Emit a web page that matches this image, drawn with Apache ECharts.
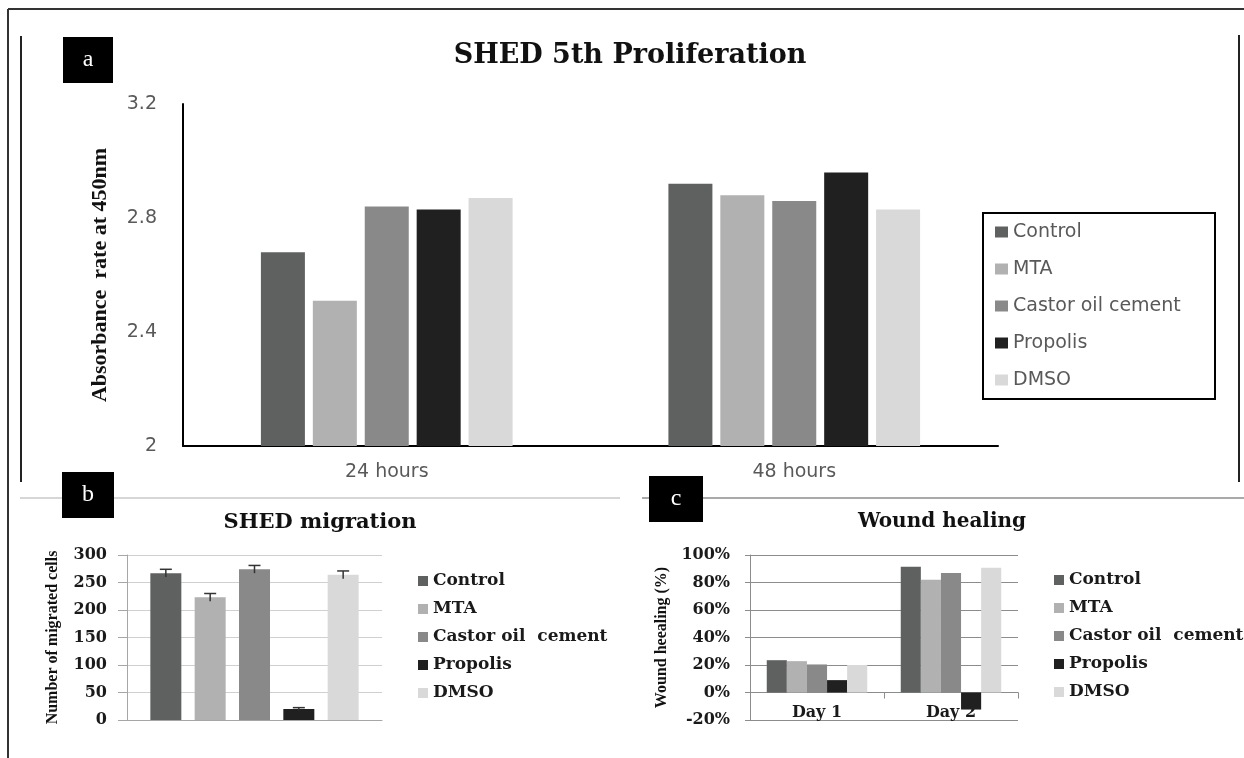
<!DOCTYPE html>
<html>
<head>
<meta charset="utf-8">
<title>SHED proliferation, migration and wound healing</title>
<script src="https://cdn.jsdelivr.net/npm/echarts@6/dist/echarts.min.js"></script>
<style>
    html, body { margin: 0; padding: 0; background: #fff; }
    #chart { width: 1244px; height: 758px; }
</style>
</head>
<body>
<div id="chart"></div>
<script>
// groups (legend names) - panels b and c use the double space as printed
const groups = ['Control', 'MTA', 'Castor oil cement', 'Propolis', 'DMSO'];
const groupsSmall = ['Control', 'MTA', 'Castor oil  cement', 'Propolis', 'DMSO'];
const greys = ['#5f6060', '#b1b1b1', '#898989', '#202020', '#d9d9d9'];

// a: proliferation, one row per group -> [24 hours, 48 hours]
const timePoints = ['24 hours', '48 hours'];
const absorbance = [
    [2.68, 2.92],
    [2.51, 2.88],
    [2.84, 2.86],
    [2.83, 2.96],
    [2.87, 2.83]
];

// b: migration (single measurement per group + error)
const migrated = [267, 223, 274, 20, 264];
const migratedErr = [7, 7, 7, 2.5, 7];

// c: wound healing, one row per group -> [Day 1, Day 2] in %
const days = ['Day 1', 'Day 2'];
const healing = [
    [23.5, 91.4],
    [22.8, 82],
    [20.4, 87],
    [9, -12.4],
    [20, 90.7]
];

const SERIF_B = { fontFamily: 'DejaVu Serif', fontWeight: 'bold' };
const migBarWidth = 31;
const migBarGap = 0.43;

const chart = echarts.init(document.getElementById('chart'));

const seriesA = groups.map((name, i) => ({
    type: 'bar', name, xAxisIndex: 0, yAxisIndex: 0,
    data: absorbance[i],
    barWidth: 44, barGap: '18%',
    itemStyle: { color: greys[i] }
}));

const seriesB = groupsSmall.map((name, i) => ({
    type: 'bar', name, xAxisIndex: 1, yAxisIndex: 1,
    data: [migrated[i]],
    barWidth: migBarWidth, barGap: (migBarGap * 100) + '%',
    itemStyle: { color: greys[i] }
}));

// error bars for panel b, placed at the bar offsets inside the single category
const errorBars = {
    type: 'custom', xAxisIndex: 1, yAxisIndex: 1, silent: true, z: 5,
    data: migrated.map((v, i) => [0, v, migratedErr[i], i]),
    renderItem: (params, api) => {
        const i = api.value(3);
        const step = migBarWidth * (1 + migBarGap);
        const dx = (i - (groups.length - 1) / 2) * step;
        const hi = api.coord([api.value(0), api.value(1) + api.value(2)]);
        const lo = api.coord([api.value(0), api.value(1) - api.value(2)]);
        const x = hi[0] + dx;
        const st = { stroke: '#333', lineWidth: 1.5 };
        return {
            type: 'group',
            children: [
                { type: 'line', shape: { x1: x, y1: hi[1], x2: x, y2: lo[1] }, style: st },
                { type: 'line', shape: { x1: x - 6, y1: hi[1], x2: x + 6, y2: hi[1] }, style: st }
            ]
        };
    }
};

const seriesC = groupsSmall.map((name, i) => ({
    type: 'bar', name, xAxisIndex: 2, yAxisIndex: 2,
    data: healing[i],
    barGap: '0%', barCategoryGap: '25%',
    itemStyle: { color: greys[i] }
}));

const option = {
    animation: false,
    backgroundColor: '#fff',
    title: [
        { text: 'SHED 5th Proliferation', left: 630, top: 42, textAlign: 'center', padding: 0,
          textStyle: Object.assign({ fontSize: 27, color: '#111' }, SERIF_B) },
        { text: 'SHED migration', left: 320, top: 512, textAlign: 'center', padding: 0,
          textStyle: Object.assign({ fontSize: 21, color: '#111' }, SERIF_B) },
        { text: 'Wound healing', left: 942, top: 512, textAlign: 'center', padding: 0,
          textStyle: Object.assign({ fontSize: 20, color: '#111' }, SERIF_B) }
    ],
    legend: [
        { data: groups, orient: 'vertical', left: 995, top: 221, padding: 0,
          icon: 'rect', itemWidth: 13, itemHeight: 11, itemGap: 15,
          textStyle: { fontFamily: 'DejaVu Sans', fontSize: 19, color: '#595959', lineHeight: 22 } },
        { data: groupsSmall, orient: 'vertical', left: 418, top: 572, padding: 0,
          icon: 'rect', itemWidth: 10, itemHeight: 10, itemGap: 10,
          textStyle: Object.assign({ fontSize: 17, color: '#1a1a1a', lineHeight: 18 }, SERIF_B) },
        { data: groupsSmall, orient: 'vertical', left: 1054, top: 571, padding: 0,
          icon: 'rect', itemWidth: 10, itemHeight: 10, itemGap: 10,
          textStyle: Object.assign({ fontSize: 17, color: '#1a1a1a', lineHeight: 18 }, SERIF_B) }
    ],
    grid: [
        { left: 183, top: 104, width: 815, height: 342 },
        { left: 127, top: 555, width: 255, height: 165 },
        { left: 750, top: 555, width: 268, height: 165 }
    ],
    xAxis: [
        { type: 'category', gridIndex: 0, data: timePoints,
          axisLine: { lineStyle: { color: '#000', width: 2 } },
          axisTick: { show: false },
          axisLabel: { fontFamily: 'DejaVu Sans', fontSize: 19, color: '#595959', margin: 17 } },
        { type: 'category', gridIndex: 1, data: ['SHED'],
          axisLine: { lineStyle: { color: '#a6a6a6' } },
          axisTick: { show: false }, axisLabel: { show: false } },
        // labels sit just under the zero line, overlapping the negative band as printed
        { type: 'category', gridIndex: 2, data: days,
          axisLine: { lineStyle: { color: '#8c8c8c' } },
          axisTick: { show: true, length: 6, lineStyle: { color: '#8c8c8c' } },
          axisLabel: Object.assign({ fontSize: 16, color: '#1a1a1a', margin: -15 }, SERIF_B) }
    ],
    yAxis: [
        { type: 'value', gridIndex: 0, min: 2, max: 3.2, interval: 0.4,
          axisLine: { show: true, lineStyle: { color: '#000', width: 2 } },
          axisTick: { show: false }, splitLine: { show: false },
          axisLabel: { fontFamily: 'DejaVu Sans', fontSize: 19, color: '#595959', margin: 26 },
          name: 'Absorbance  rate at 450nm', nameLocation: 'middle', nameGap: 72,
          nameTextStyle: { fontFamily: 'Liberation Serif', fontWeight: 'bold', fontSize: 22, color: '#111' } },
        { type: 'value', gridIndex: 1, min: 0, max: 300, interval: 50,
          axisLine: { show: true, lineStyle: { color: '#a6a6a6' } },
          axisTick: { show: true, length: 9, lineStyle: { color: '#a6a6a6' } },
          splitLine: { lineStyle: { color: '#d0d0d0' } },
          axisLabel: Object.assign({ fontSize: 16, color: '#1a1a1a', margin: 20 }, SERIF_B),
          name: 'Number of migrated cells', nameLocation: 'middle', nameGap: 66,
          nameTextStyle: { fontFamily: 'Liberation Serif', fontWeight: 'bold', fontSize: 16, color: '#111' } },
        { type: 'value', gridIndex: 2, min: -20, max: 100, interval: 20,
          axisLine: { show: true, lineStyle: { color: '#8c8c8c' } },
          axisTick: { show: true, length: 5, lineStyle: { color: '#8c8c8c' } },
          splitLine: { lineStyle: { color: '#8c8c8c' } },
          axisLabel: Object.assign({ fontSize: 16, color: '#1a1a1a', margin: 20, formatter: '{value}%' }, SERIF_B),
          name: 'Wound heealing (%)', nameLocation: 'middle', nameGap: 80,
          nameTextStyle: { fontFamily: 'Liberation Serif', fontWeight: 'bold', fontSize: 16, color: '#111' } }
    ],
    series: [...seriesA, ...seriesB, errorBars, ...seriesC],
    graphic: [
        // figure frame and panel separators
        { type: 'line', shape: { x1: 8, y1: 9, x2: 1244, y2: 9 }, style: { stroke: '#333', lineWidth: 2 } },
        { type: 'line', shape: { x1: 8, y1: 9, x2: 8, y2: 758 }, style: { stroke: '#333', lineWidth: 2 } },
        { type: 'line', shape: { x1: 21, y1: 36, x2: 21, y2: 482 }, style: { stroke: '#222', lineWidth: 2 } },
        { type: 'line', shape: { x1: 1239, y1: 35, x2: 1239, y2: 482 }, style: { stroke: '#222', lineWidth: 2 } },
        { type: 'line', shape: { x1: 20, y1: 498, x2: 620, y2: 498 }, style: { stroke: '#c8c8c8', lineWidth: 1.5 } },
        { type: 'line', shape: { x1: 642, y1: 498, x2: 1244, y2: 498 }, style: { stroke: '#8c8c8c', lineWidth: 1.5 } },
        // border of legend a
        { type: 'rect', shape: { x: 983, y: 213, width: 232, height: 186 },
          style: { fill: 'none', stroke: '#000', lineWidth: 2 } },
        // panel letters
        ...[['a', 63, 37, 50, 46], ['b', 62, 472, 52, 46], ['c', 649, 476, 54, 46]].map(([t, x, y, w, h]) => ({
            type: 'rect', shape: { x, y, width: w, height: h }, style: { fill: '#000' },
            textContent: { style: { text: t, fill: '#fff', font: '24px "Liberation Serif"' } },
            textConfig: { position: 'inside' }
        }))
    ]
};

chart.setOption(option);
</script>
</body>
</html>
